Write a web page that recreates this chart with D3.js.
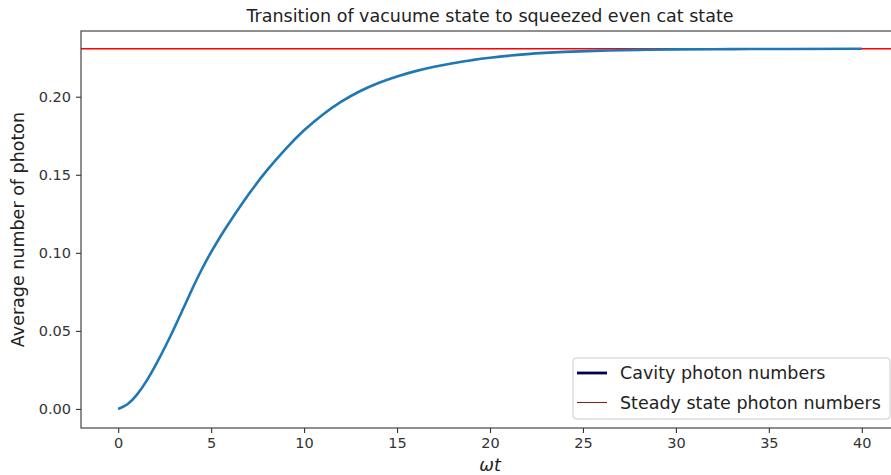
<!DOCTYPE html>
<html>
<head>
<meta charset="utf-8">
<script src="https://cdn.jsdelivr.net/npm/d3@7"></script>
<style>
    body { margin: 0; background: #fff; }
    text { font-family: "DejaVu Sans", sans-serif; }
</style>
</head>
<body>
<div id="content"></div>
<script>
// time axis (omega t) and photon number
const times = [0, 0.5, 1, 1.5, 2, 2.5, 3, 3.5, 4, 4.5, 5, 5.5, 6, 7, 8, 9, 10, 11, 12, 13, 14,
    15, 16, 17, 18, 19, 20, 22, 24, 26, 28, 30, 33, 36, 40];
const photons = [0, 0.003, 0.009, 0.0175, 0.0278, 0.0392, 0.0514, 0.0643, 0.0773, 0.0895, 0.1005,
    0.1105, 0.1198, 0.1372, 0.1528, 0.1665, 0.1785, 0.1885, 0.1968, 0.2035, 0.2088, 0.2130, 0.2164,
    0.2192, 0.2215, 0.2234, 0.2250, 0.2273, 0.2287, 0.2295, 0.2300, 0.2303, 0.2305, 0.2306, 0.2307];
const steadyState = 0.2308;
const xTicks = [0, 5, 10, 15, 20, 25, 30, 35, 40];
const yTicks = [0, 0.05, 0.10, 0.15, 0.20];
const legendLabels = ["Cavity photon numbers", "Steady state photon numbers"];

const width = 891, height = 475;
const m = { left: 81, top: 31, right: 899, bottom: 428 };

var svg = d3.select("#content")
    .append("svg")
    .attr("width", width)
    .attr("height", height);

const x = d3.scaleLinear().domain([-2, 42]).range([m.left, m.right]);
const y = d3.scaleLinear().domain([-0.0122, 0.2421]).range([m.bottom, m.top]);

svg.append("clipPath")
    .attr("id", "plot")
    .append("rect")
    .attr("x", m.left).attr("y", m.top)
    .attr("width", m.right - m.left).attr("height", m.bottom - m.top);

// steady state line
svg.append("line")
    .attr("clip-path", "url(#plot)")
    .attr("x1", m.left).attr("x2", m.right)
    .attr("y1", y(steadyState)).attr("y2", y(steadyState))
    .style("stroke", "red")
    .style("stroke-width", 1.5);

const pts = times.map((t, i) => [t, photons[i]]);
svg.append("path")
    .datum(pts)
    .attr("clip-path", "url(#plot)")
    .attr("d", d3.line()
        .x(d => x(d[0]))
        .y(d => y(d[1]))
        .curve(d3.curveNatural))
    .style("fill", "none")
    .style("stroke", "#1f77b4")
    .style("stroke-width", 2.6);

// axes
const xAxis = svg.append("g")
    .attr("transform", "translate(0," + m.bottom + ")")
    .call(d3.axisBottom(x).tickValues(xTicks).tickSize(5).tickPadding(5).tickFormat(d3.format("d")));
const yAxis = svg.append("g")
    .attr("transform", "translate(" + m.left + ",0)")
    .call(d3.axisLeft(y).tickValues(yTicks).tickSize(5).tickPadding(5).tickFormat(d3.format(".2f")));

[xAxis, yAxis].forEach(function (g) {
    g.select(".domain").remove();
    g.selectAll("line").style("stroke", "#333").style("stroke-width", 1.1);
    g.selectAll("text")
        .style("font-family", "DejaVu Sans")
        .style("font-size", "14.5px")
        .style("fill", "#333");
});

// spines
svg.append("rect")
    .attr("x", m.left).attr("y", m.top)
    .attr("width", m.right - m.left).attr("height", m.bottom - m.top)
    .style("fill", "none")
    .style("stroke", "#333")
    .style("stroke-width", 1.1);

svg.append("text")
    .attr("x", (m.left + m.right) / 2)
    .attr("y", 22)
    .attr("text-anchor", "middle")
    .style("font-size", "17.5px")
    .style("fill", "#222")
    .text("Transition of vacuume state to squeezed even cat state");

svg.append("text")
    .attr("transform", "translate(24," + (m.top + m.bottom) / 2 + ")rotate(-90)")
    .attr("text-anchor", "middle")
    .style("font-size", "17.5px")
    .style("fill", "#222")
    .text("Average number of photon");

svg.append("text")
    .attr("x", (m.left + m.right) / 2)
    .attr("y", 471)
    .attr("text-anchor", "middle")
    .style("font-size", "17.5px")
    .style("font-style", "italic")
    .style("fill", "#222")
    .text("ωt");

// legend
const legend = svg.append("g");
legend.append("rect")
    .attr("x", 573).attr("y", 358)
    .attr("width", 317).attr("height", 61)
    .attr("rx", 3.5)
    .style("fill", "white")
    .style("fill-opacity", 0.8)
    .style("stroke", "#ccc");

const legendColors = ["#000050", "#7a2a2a"];
const legendWidths = [2.8, 1.1];
legendLabels.forEach(function (label, i) {
    const ly = 373 + i * 29.5;
    legend.append("line")
        .attr("x1", 577).attr("x2", 607)
        .attr("y1", ly).attr("y2", ly)
        .style("stroke", legendColors[i])
        .style("stroke-width", legendWidths[i]);
    legend.append("text")
        .attr("x", 620).attr("y", ly)
        .attr("dy", "0.35em")
        .style("font-size", "17.5px")
        .style("fill", "#222")
        .text(label);
});
</script>
</body>
</html>
